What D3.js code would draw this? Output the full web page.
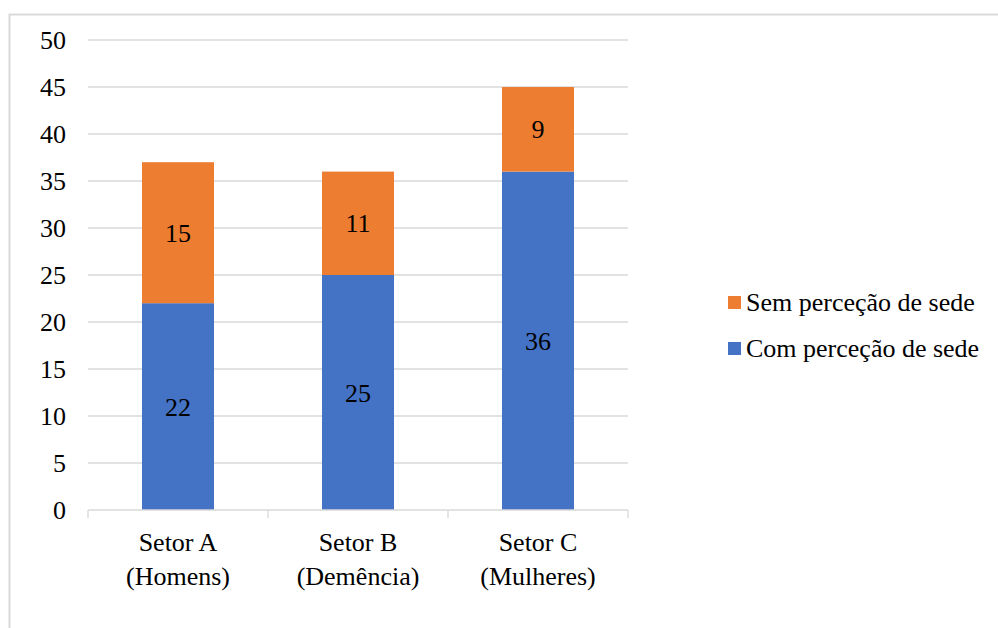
<!DOCTYPE html>
<html>
<head>
<meta charset="utf-8">
<script src="https://cdn.jsdelivr.net/npm/d3@7"></script>
<style>
  body { margin: 0; background: #fff; }
  svg { display: block; font-family: "Liberation Serif", "Times New Roman", serif; }
</style>
</head>
<body>
<svg id="chart" width="998" height="628"></svg>
<script>
const categories = [["Setor A", "(Homens)"], ["Setor B", "(Demência)"], ["Setor C", "(Mulheres)"]];
const comPercecao = [22, 25, 36];
const semPercecao = [15, 11, 9];
const seriesNames = ["Com perceção de sede", "Sem perceção de sede"];
const yTicks = [0, 5, 10, 15, 20, 25, 30, 35, 40, 45, 50];

const colors = { "Com perceção de sede": "#4472c4", "Sem perceção de sede": "#ed7d31" };
const fontSize = "26px";

const svg = d3.select("#chart");

// chart border
svg.append("rect")
  .attr("x", 9.5).attr("y", 14.5)
  .attr("width", 1000).attr("height", 700)
  .attr("fill", "none")
  .attr("stroke", "#d9d9d9")
  .attr("stroke-width", 2);

const margin = { left: 88, right: 628, top: 40, bottom: 510 };

const x = d3.scaleBand()
  .domain(categories.map((d, i) => i))
  .range([margin.left, margin.right])
  .paddingInner(0.6)
  .paddingOuter(0.3);

const y = d3.scaleLinear().domain([0, 50]).range([margin.bottom, margin.top]);

// gridlines
svg.append("g")
  .selectAll("line")
  .data(yTicks.filter((d) => d > 0))
  .enter()
  .append("line")
  .attr("x1", margin.left).attr("x2", margin.right)
  .attr("y1", (d) => y(d)).attr("y2", (d) => y(d))
  .attr("stroke", "#d9d9d9")
  .attr("stroke-width", 1.3);

// y tick labels
svg.append("g")
  .selectAll("text")
  .data(yTicks)
  .enter()
  .append("text")
  .attr("x", 66)
  .attr("y", (d) => y(d))
  .attr("dy", "0.35em")
  .attr("text-anchor", "end")
  .style("font-size", fontSize)
  .attr("fill", "#000")
  .text((d) => d);

// stacked data
const rows = categories.map((c, i) => ({
  i: i,
  "Com perceção de sede": comPercecao[i],
  "Sem perceção de sede": semPercecao[i]
}));
const stacked = d3.stack().keys(seriesNames)(rows);

const layers = svg.append("g")
  .selectAll("g")
  .data(stacked)
  .enter()
  .append("g")
  .attr("fill", (d) => colors[d.key]);

layers.selectAll("rect")
  .data((d) => d)
  .enter()
  .append("rect")
  .attr("x", (d) => x(d.data.i))
  .attr("width", x.bandwidth())
  .attr("y", (d) => y(d[1]))
  .attr("height", (d) => y(d[0]) - y(d[1]));

layers.selectAll("text")
  .data((d) => d)
  .enter()
  .append("text")
  .attr("x", (d) => x(d.data.i) + x.bandwidth() / 2)
  .attr("y", (d) => (y(d[0]) + y(d[1])) / 2)
  .attr("dy", "0.35em")
  .attr("text-anchor", "middle")
  .attr("fill", "#000")
  .style("font-size", fontSize)
  .text((d) => d[1] - d[0]);

// x axis line + ticks at category boundaries
const step = x.step();
const xAxis = svg.append("g");
xAxis.append("line")
  .attr("x1", margin.left).attr("x2", margin.right)
  .attr("y1", margin.bottom).attr("y2", margin.bottom)
  .attr("stroke", "#d9d9d9")
  .attr("stroke-width", 1.3);
xAxis.selectAll(".tick")
  .data(d3.range(categories.length + 1))
  .enter()
  .append("line")
  .attr("x1", (d) => margin.left + d * step)
  .attr("x2", (d) => margin.left + d * step)
  .attr("y1", margin.bottom)
  .attr("y2", margin.bottom + 8)
  .attr("stroke", "#d9d9d9")
  .attr("stroke-width", 1.3);

const catLabels = xAxis.selectAll(".cat")
  .data(categories)
  .enter()
  .append("text")
  .attr("text-anchor", "middle")
  .attr("fill", "#000")
  .style("font-size", fontSize);
catLabels.each(function (d, i) {
  const t = d3.select(this);
  d.forEach((line, j) => {
    t.append("tspan")
      .attr("x", x(i) + x.bandwidth() / 2)
      .attr("y", 551 + j * 34)
      .text(line);
  });
});

// legend
const legend = svg.append("g").attr("transform", "translate(728,0)");
const legendItems = ["Sem perceção de sede", "Com perceção de sede"];
const legendEntries = legend.selectAll("g")
  .data(legendItems)
  .enter()
  .append("g")
  .attr("transform", (d, i) => "translate(0," + (302 + i * 46) + ")");
legendEntries.append("rect")
  .attr("x", 0).attr("y", -6)
  .attr("width", 13).attr("height", 13)
  .attr("fill", (d) => colors[d]);
legendEntries.append("text")
  .attr("x", 18)
  .attr("y", 0)
  .attr("dy", "0.35em")
  .attr("fill", "#000")
  .style("font-size", fontSize)
  .text((d) => d);
</script>
</body>
</html>
